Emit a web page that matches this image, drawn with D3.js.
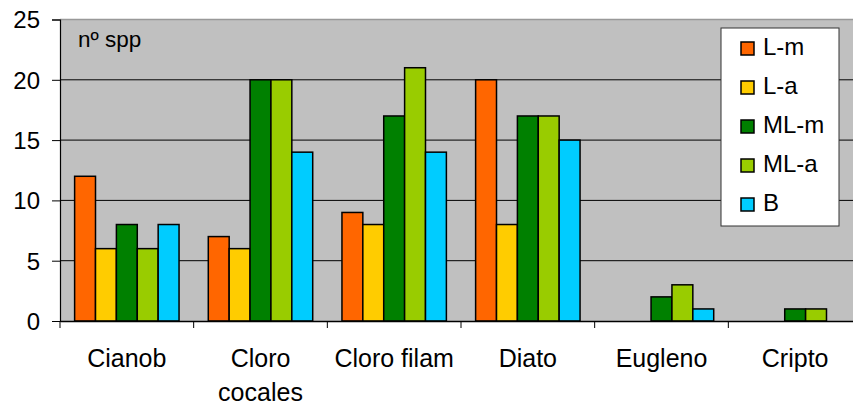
<!DOCTYPE html>
<html>
<head>
<meta charset="utf-8">
<script src="https://cdn.jsdelivr.net/npm/d3@7"></script>
<style>
  body { margin: 0; background: #fff; }
  svg { display: block; font-family: "Liberation Sans", Arial, sans-serif; }
</style>
</head>
<body>
<div id="chart"></div>
<script>
// data
const categories = ['Cianob', 'Cloro cocales', 'Cloro filam', 'Diato', 'Eugleno', 'Cripto'];
const categoryLines = [['Cianob'], ['Cloro', 'cocales'], ['Cloro filam'], ['Diato'], ['Eugleno'], ['Cripto']];
const seriesNames = ['L-m', 'L-a', 'ML-m', 'ML-a', 'B'];
const seriesColors = ['#FF6600', '#FFCC00', '#008000', '#99CC00', '#00CCFF'];
const valuesLm  = [12, 7, 9, 20, 0, 0];
const valuesLa  = [6, 6, 8, 8, 0, 0];
const valuesMLm = [8, 20, 17, 17, 2, 1];
const valuesMLa = [6, 20, 21, 17, 3, 1];
const valuesB   = [8, 14, 14, 15, 1, 0];
const yTicks = [0, 5, 10, 15, 20, 25];

const series = [valuesLm, valuesLa, valuesMLm, valuesMLa, valuesB];

const W = 853, H = 405;
const plotLeft = 60, plotTop = 19.5, plotBottom = 321, plotRight = 862;

const svg = d3.select('#chart').append('svg')
  .attr('width', W).attr('height', H);

const x = d3.scaleBand().domain(categories).range([plotLeft, plotRight]).padding(0);
const xs = d3.scaleBand().domain(seriesNames)
  .range([0, x.bandwidth()]).paddingInner(0).paddingOuter(0.7);
const y = d3.scaleLinear().domain([0, 25]).range([plotBottom, plotTop]);

// plot background
svg.append('rect')
  .attr('x', plotLeft).attr('y', plotTop)
  .attr('width', plotRight - plotLeft).attr('height', plotBottom - plotTop)
  .attr('fill', '#C0C0C0');

// top border
svg.append('line')
  .attr('x1', plotLeft).attr('x2', plotRight)
  .attr('y1', plotTop).attr('y2', plotTop)
  .attr('stroke', '#999').attr('stroke-width', 1.5);

// gridlines
svg.append('g').selectAll('line')
  .data(yTicks.filter(d => d > 0 && d < 25))
  .enter().append('line')
  .attr('x1', plotLeft).attr('x2', plotRight)
  .attr('y1', d => y(d)).attr('y2', d => y(d))
  .attr('stroke', '#000').attr('stroke-width', 1);

// bars
const groups = svg.append('g').selectAll('g')
  .data(categories)
  .enter().append('g')
  .attr('transform', d => `translate(${x(d)},0)`);

groups.selectAll('rect')
  .data((c, ci) => seriesNames.map((s, si) => ({ s, si, v: series[si][ci] })).filter(d => d.v > 0))
  .enter().append('rect')
  .attr('x', d => xs(d.s))
  .attr('y', d => y(d.v))
  .attr('width', xs.bandwidth())
  .attr('height', d => y(0) - y(d.v))
  .attr('fill', d => seriesColors[d.si])
  .attr('stroke', '#000').attr('stroke-width', 1.5);

// y axis
const yAxis = d3.axisLeft(y).tickValues(yTicks).tickSize(8).tickPadding(12);
const gy = svg.append('g').attr('transform', `translate(${plotLeft},0)`).call(yAxis);
gy.select('.domain').attr('stroke', '#000').attr('stroke-width', 1.2);
gy.selectAll('.tick line').attr('stroke', '#000');
gy.selectAll('.tick text')
  .attr('font-size', 24).attr('fill', '#000')
  .attr('font-family', '"Liberation Sans", Arial, sans-serif')
  .attr('dy', '0.35em');

// x axis
const xAxis = d3.axisBottom(x).tickSize(0).tickFormat('');
const gx = svg.append('g').attr('transform', `translate(0,${plotBottom})`).call(xAxis);
gx.select('.domain').attr('stroke', '#000').attr('stroke-width', 1.5);
gx.selectAll('.tick').remove();

// category boundary ticks
svg.append('g').selectAll('line')
  .data(categories)
  .enter().append('line')
  .attr('x1', d => x(d)).attr('x2', d => x(d))
  .attr('y1', plotBottom).attr('y2', plotBottom + 7)
  .attr('stroke', '#000').attr('stroke-width', 1);

// category labels
const labels = svg.append('g').selectAll('text')
  .data(categories)
  .enter().append('text')
  .attr('y', 367)
  .attr('text-anchor', 'middle')
  .attr('font-size', 25)
  .attr('fill', '#000');
labels.each(function(d, i) {
  const t = d3.select(this);
  categoryLines[i].forEach((line, li) => {
    t.append('tspan')
      .attr('x', x(d) + x.bandwidth() / 2)
      .attr('dy', li === 0 ? 0 : 34)
      .text(line);
  });
});

// axis title inside plot
svg.append('text')
  .attr('x', 78).attr('y', 46.5)
  .attr('font-size', 22.5).attr('fill', '#000')
  .text('nº spp');

// legend
const lg = svg.append('g').attr('transform', 'translate(721,28)');
lg.append('rect')
  .attr('width', 118).attr('height', 198)
  .attr('fill', '#fff').attr('stroke', '#333').attr('stroke-width', 1);
const items = lg.selectAll('g')
  .data(seriesNames)
  .enter().append('g')
  .attr('transform', (d, i) => `translate(0,${20.5 + i * 39})`);
items.append('rect')
  .attr('x', 20).attr('y', -6.5)
  .attr('width', 13).attr('height', 13)
  .attr('fill', (d, i) => seriesColors[i])
  .attr('stroke', '#000').attr('stroke-width', 1.5);
items.append('text')
  .attr('x', 42).attr('y', 6.5)
  .attr('font-size', 24).attr('fill', '#000')
  .text(d => d);
</script>
</body>
</html>
